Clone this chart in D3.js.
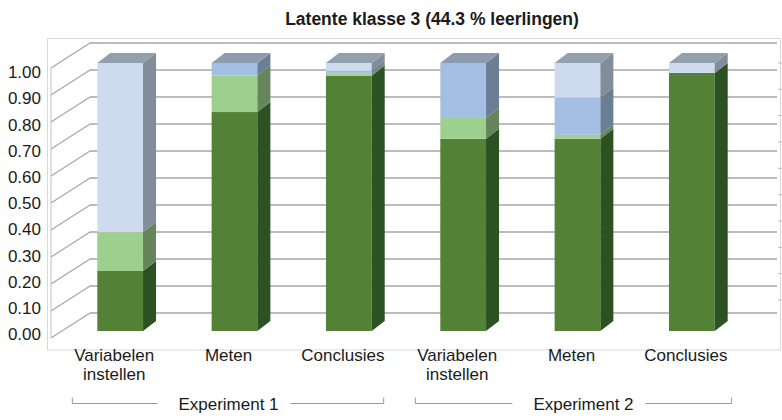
<!DOCTYPE html>
<html>
<head>
<meta charset="utf-8">
<script src="https://cdn.jsdelivr.net/npm/d3@7"></script>
<style>
  html, body { margin: 0; padding: 0; background: #fff; }
  svg { display: block; font-family: "Liberation Sans", Arial, sans-serif; }
</style>
</head>
<body>
<div id="chart"></div>
<script>
// data (shares per task, stacked to 1)
var experiments = ['Experiment 1', 'Experiment 2'];
var tasks = ['Variabelen instellen', 'Meten', 'Conclusies'];
var seriesKeys = ['niveau1', 'niveau2', 'niveau3', 'niveau4'];
var niveau1 = [0.224, 0.817, 0.952, 0.717, 0.717, 0.963];
var niveau2 = [0.145, 0.136, 0.008, 0.078, 0.015, 0.000];
var niveau3 = [0.000, 0.047, 0.011, 0.205, 0.139, 0.000];
var niveau4 = [0.631, 0.000, 0.029, 0.000, 0.129, 0.037];
var yTicks = [0, 0.1, 0.2, 0.3, 0.4, 0.5, 0.6, 0.7, 0.8, 0.9, 1.0];
var title = 'Latente klasse 3 (44.3 % leerlingen)';

var colors = {
    niveau1: { front: '#538135', side: '#2c5122', top: '#3f6a2a' },
    niveau2: { front: '#9dcf8e', side: '#66855a', top: '#7f9a77' },
    niveau3: { front: '#a5bee3', side: '#6b7e95', top: '#8c9db1' },
    niveau4: { front: '#cedbee', side: '#838c99', top: '#929fad' }
};

function Chart(container) {
    this.container = container;
    this.width = 782;
    this.height = 420;
    this.depth = { dx: 39, dy: -25 };     // side wall / floor depth
    this.barDepth = { dx: 13, dy: -10 };  // bar side depth
    this.rows = this.getRows();
    this.element = this.create();
    this.x = d3.scaleBand()
        .domain(this.rows.map(function(d) { return d.key; }))
        .range([63, 749])
        .paddingInner(0.6)
        .paddingOuter(0.3);
    this.y = d3.scaleLinear().domain([0, 1]).range([338, 68]);      // front plane of walls
    this.yBar = d3.scaleLinear().domain([0, 1]).range([331, 63]);   // front face of bars
    this.yLabel = d3.scaleLinear().domain([0, 1]).range([334, 72]);
    this.drawFrame();
    this.drawWalls();
    this.drawBars();
    this.drawAxis();
    this.drawGroups();
    this.drawTitle();
}

Chart.prototype.getRows = function() {
    var rows = [];
    experiments.forEach(function(e, g) {
        tasks.forEach(function(t, j) {
            var i = g * tasks.length + j;
            rows.push({
                key: e + '|' + t, experiment: e, task: t, group: g,
                niveau1: niveau1[i], niveau2: niveau2[i], niveau3: niveau3[i], niveau4: niveau4[i]
            });
        });
    });
    return rows;
};

Chart.prototype.create = function() {
    return d3.select(this.container).append('svg').attr('width', this.width).attr('height', this.height);
};

Chart.prototype.drawFrame = function() {
    this.element.append('rect')
        .attr('x', 47.5).attr('y', 38.5)
        .attr('width', 733).attr('height', 311.5)
        .attr('fill', 'none').attr('stroke', '#d9d9d9');
};

Chart.prototype.drawWalls = function() {
    var self = this, d = this.depth;
    var walls = this.element.append('g').attr('class', 'walls');
    var x0 = 51, xb = x0 + d.dx, xr = 777;
    // back wall gridlines
    walls.selectAll('line.grid').data(yTicks).enter().append('line')
        .attr('class', 'grid')
        .attr('x1', xb).attr('x2', xr)
        .attr('y1', function(v) { return self.y(v) + d.dy; })
        .attr('y2', function(v) { return self.y(v) + d.dy; })
        .attr('stroke', '#a6a6a6').attr('stroke-width', 1.6);
    // side wall diagonals
    walls.selectAll('line.side').data(yTicks).enter().append('line')
        .attr('class', 'side')
        .attr('x1', x0).attr('x2', xb)
        .attr('y1', function(v) { return self.y(v); })
        .attr('y2', function(v) { return self.y(v) + d.dy; })
        .attr('stroke', '#a6a6a6').attr('stroke-width', 1.2);
    walls.append('line')
        .attr('x1', x0).attr('x2', x0)
        .attr('y1', this.y(1)).attr('y2', this.y(0))
        .attr('stroke', '#bfbfbf');
    // small ticks at the right edge
    var yRight = d3.scaleLinear().domain([0, 0.9]).range([300, 63]);
    walls.selectAll('line.rt').data(yTicks.slice(0, 10)).enter().append('line')
        .attr('class', 'rt')
        .attr('x1', 778).attr('x2', 782)
        .attr('y1', function(v) { return yRight(v); })
        .attr('y2', function(v) { return yRight(v); })
        .attr('stroke', '#bfbfbf');
};

Chart.prototype.drawBars = function() {
    var self = this, bd = this.barDepth, bw = this.x.bandwidth();
    var stacked = d3.stack().keys(seriesKeys)(this.rows);
    var bars = this.element.append('g').attr('class', 'bars');
    this.rows.forEach(function(row, i) {
        var g = bars.append('g');
        var x0 = self.x(row.key), x1 = x0 + bw;
        var topKey = null;
        stacked.forEach(function(layer) {
            var s = layer[i], k = layer.key;
            if (s[1] - s[0] <= 0) return;
            topKey = k;
            var yb = self.yBar(s[0]), yt = self.yBar(s[1]);
            g.append('rect')
                .attr('x', x0).attr('y', yt)
                .attr('width', bw).attr('height', yb - yt)
                .attr('fill', colors[k].front);
            g.append('path')
                .attr('d', d3.line()([[x1, yb], [x1, yt], [x1 + bd.dx, yt + bd.dy], [x1 + bd.dx, yb + bd.dy]]))
                .attr('fill', colors[k].side);
        });
        var total = stacked[stacked.length - 1][i][1];
        var yt = self.yBar(total);
        g.append('path')
            .attr('d', d3.line()([[x0, yt], [x1, yt], [x1 + bd.dx, yt + bd.dy], [x0 + bd.dx, yt + bd.dy]]))
            .attr('fill', colors[topKey].top);
    });
};

Chart.prototype.drawAxis = function() {
    var self = this;
    var axis = this.element.append('g').attr('class', 'axis').style('font-size', '17px').attr('fill', '#1a1a1a');
    axis.selectAll('text').data(yTicks).enter().append('text')
        .attr('x', 41)
        .attr('y', function(v) { return self.yLabel(v); })
        .attr('dy', '0.36em')
        .attr('text-anchor', 'end')
        .text(d3.format('.2f'));

    var cats = this.element.append('g').attr('class', 'categories').style('font-size', '17px').attr('fill', '#1a1a1a');
    this.rows.forEach(function(row) {
        var cx = self.x(row.key) + self.x.bandwidth() / 2 - 6;
        var words = row.task.split(' ');
        var t = cats.append('text').attr('text-anchor', 'middle');
        words.forEach(function(w, j) {
            t.append('tspan').attr('x', cx).attr('y', 361 + j * 19).text(w);
        });
    });
};

Chart.prototype.drawGroups = function() {
    var self = this, bw = this.x.bandwidth();
    var groups = this.element.append('g').attr('class', 'groups').style('font-size', '17px');
    experiments.forEach(function(e, g) {
        var first = self.x(e + '|' + tasks[0]);
        var last = self.x(e + '|' + tasks[tasks.length - 1]) + bw;
        var left = first - 25, right = last + 12 + g * 5;
        var yl = 403.5;
        var cx = (first + last) / 2 + (g === 0 ? -6 : 6);
        var txt = groups.append('text')
            .attr('x', cx).attr('y', yl + 6.5)
            .attr('text-anchor', 'middle').attr('fill', '#1a1a1a')
            .text(e);
        var w = txt.node().getComputedTextLength();
        var line = d3.line();
        groups.append('path')
            .attr('d', line([[left, yl - 6], [left, yl], [cx - w / 2 - 21, yl]]))
            .attr('fill', 'none').attr('stroke', '#999');
        groups.append('path')
            .attr('d', line([[cx + w / 2 + 12, yl], [right, yl], [right, yl - 6]]))
            .attr('fill', 'none').attr('stroke', '#999');
    });
};

Chart.prototype.drawTitle = function() {
    this.element.append('text')
        .attr('x', 432).attr('y', 25)
        .attr('text-anchor', 'middle')
        .style('font-size', '17.5px').style('font-weight', 'bold')
        .attr('fill', '#1a1a1a')
        .text(title);
};

var chart = new Chart('#chart');
</script>
</body>
</html>
